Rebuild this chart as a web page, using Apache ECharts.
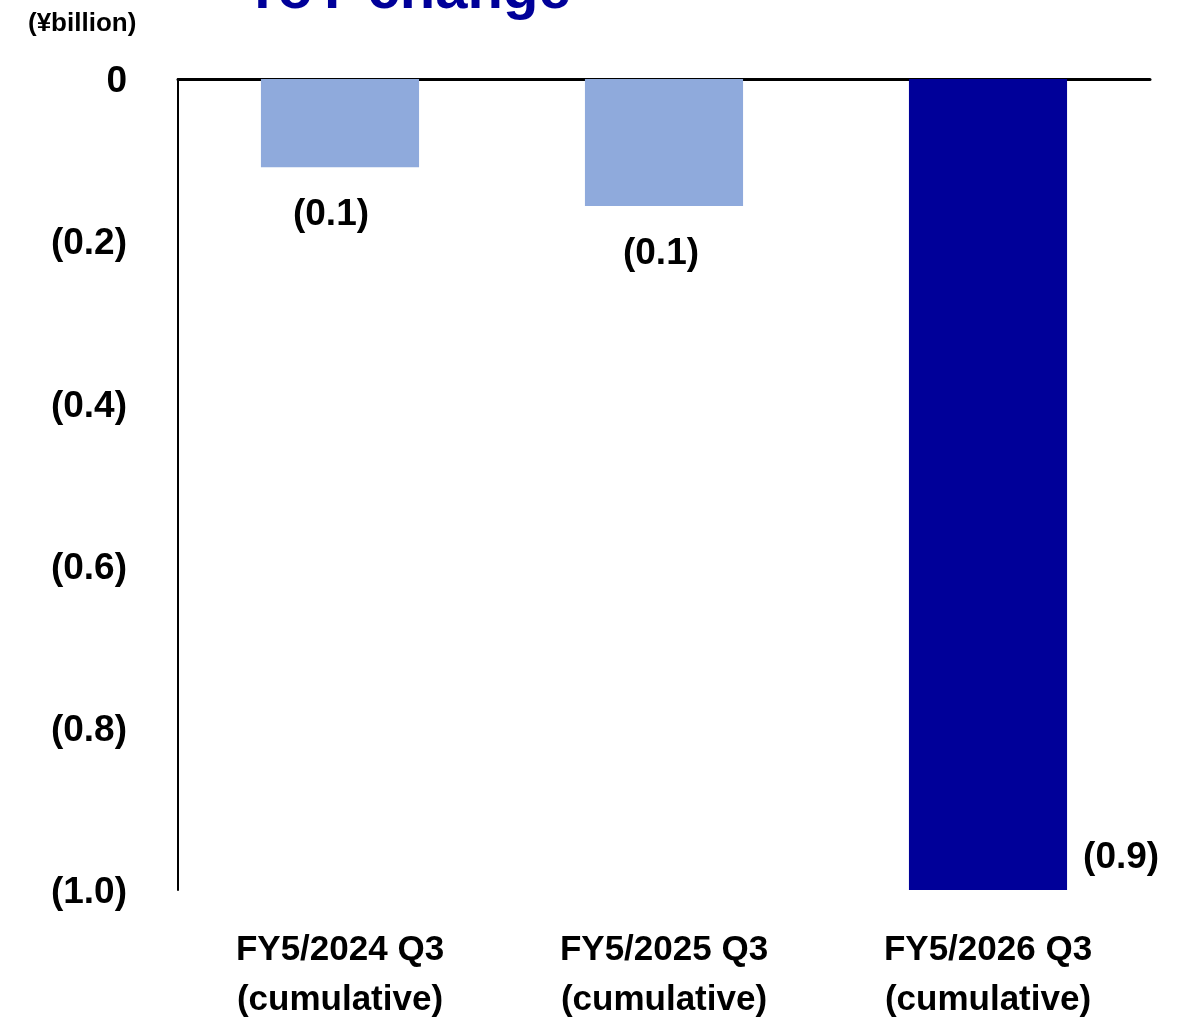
<!DOCTYPE html>
<html>
<head>
<meta charset="utf-8">
<script src="https://cdn.jsdelivr.net/npm/echarts@6/dist/echarts.min.js"></script>
<style>
  html, body { margin: 0; padding: 0; background: #fff; }
  #chart { width: 1180px; height: 1018px; }
</style>
</head>
<body>
<div id="chart"></div>
<script>
// Year-over-year change, ¥billion (negative = decrease)
const categories = ['FY5/2024 Q3\n(cumulative)', 'FY5/2025 Q3\n(cumulative)', 'FY5/2026 Q3\n(cumulative)'];
const yoyChange = [-0.098, -0.141, -0.9];
const barColors = ['#8faadc', '#8faadc', '#000099'];

const FONT = '"Liberation Sans", Arial, sans-serif';

function paren(v) {
  if (v === 0) return '0';
  const s = Math.abs(v).toFixed(1);
  return v < 0 ? '(' + s + ')' : s;
}

const chart = echarts.init(document.getElementById('chart'), null, { renderer: 'canvas' });

const labelPositions = [
  { position: 'bottom', distance: 29, offset: [-9, 0] },
  { position: 'bottom', distance: 29, offset: [-3, 0] },
  { position: 'right', distance: 16, offset: [0, 373] }
];

chart.setOption({
  animation: false,
  backgroundColor: '#ffffff',
  textStyle: { fontFamily: FONT },
  graphic: [
    {
      type: 'text', left: 243, top: -37,
      style: { text: 'YoY change', fill: '#000099', font: 'bold 58px ' + FONT }
    },
    {
      type: 'text', left: 28, top: 11,
      style: { text: '(¥billion)', fill: '#000', font: 'bold 26px ' + FONT }
    }
  ],
  grid: { left: 178, top: 79, width: 972, height: 811, containLabel: false, outerBoundsMode: 'none' },
  xAxis: [
    {
      type: 'category', data: categories, position: 'bottom',
      axisLine: { show: false }, axisTick: { show: false },
      axisLabel: { color: '#000', fontSize: 35, fontWeight: 'bold', fontFamily: FONT, margin: 35, lineHeight: 50 }
    },
    {
      type: 'category', data: categories, position: 'top',
      axisLine: { show: true, lineStyle: { color: '#000', width: 3 } },
      axisTick: { show: false }, axisLabel: { show: false }
    }
  ],
  yAxis: [
    {
      type: 'value', min: -1.0, max: 0, interval: 0.2,
      axisLine: { show: true, lineStyle: { color: '#000', width: 2 } },
      axisTick: { show: false }, splitLine: { show: false },
      axisLabel: {
        color: '#000', fontSize: 37, fontWeight: 'bold', fontFamily: FONT, margin: 51,
        verticalAlign: 'top', lineHeight: 6,
        formatter: v => paren(Math.round(v * 10) / 10)
      }
    },
    {
      type: 'value', min: -0.9, max: 0, show: false
    }
  ],
  series: [{
    type: 'bar',
    xAxisIndex: 0,
    yAxisIndex: 1,
    barWidth: '48.8%',
    data: yoyChange.map((v, i) => ({
      value: v,
      itemStyle: { color: barColors[i] },
      label: Object.assign({
        show: true, color: '#000', fontSize: 37, fontWeight: 'bold', fontFamily: FONT,
        formatter: p => paren(p.value)
      }, labelPositions[i])
    }))
  }]
});
</script>
</body>
</html>
